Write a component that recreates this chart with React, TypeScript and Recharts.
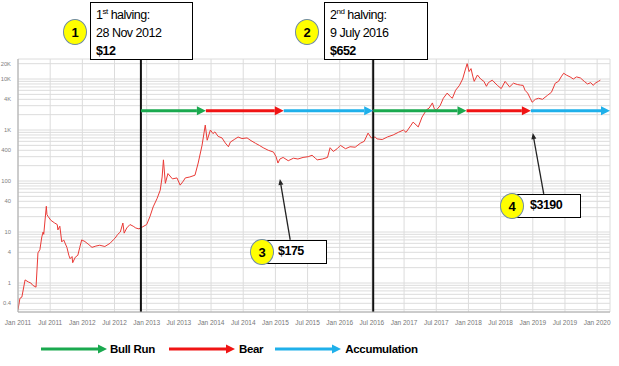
import React from "react";
import { LineChart, Line, XAxis, YAxis, CartesianGrid, ReferenceLine } from "recharts";

// decimal year / BTC price (USD)
const dates = [
  2011.0, 2011.03, 2011.06, 2011.11, 2011.16, 2011.2, 2011.23, 2011.28, 2011.31, 2011.34, 2011.37, 2011.39,
  2011.4, 2011.44, 2011.45, 2011.47, 2011.51, 2011.57, 2011.61, 2011.62, 2011.65, 2011.68, 2011.71, 2011.76,
  2011.79, 2011.81, 2011.84, 2011.85, 2011.89, 2011.93, 2011.96, 2011.99, 2012.04, 2012.09, 2012.15, 2012.21,
  2012.27, 2012.35, 2012.43, 2012.48, 2012.51, 2012.55, 2012.59, 2012.63, 2012.65, 2012.69, 2012.74, 2012.79,
  2012.83, 2012.88, 2012.93, 2013.0, 2013.05, 2013.1, 2013.16, 2013.21, 2013.24, 2013.26, 2013.29, 2013.33,
  2013.4, 2013.47, 2013.52, 2013.57, 2013.6, 2013.67, 2013.75, 2013.8, 2013.86, 2013.91, 2013.94, 2013.99,
  2014.03, 2014.06, 2014.11, 2014.17, 2014.22, 2014.27, 2014.3, 2014.36, 2014.42, 2014.48, 2014.56, 2014.62,
  2014.69, 2014.75, 2014.81, 2014.89, 2014.97, 2015.01, 2015.04, 2015.07, 2015.12, 2015.2, 2015.28, 2015.35,
  2015.43, 2015.51, 2015.57, 2015.62, 2015.65, 2015.73, 2015.81, 2015.85, 2015.9, 2015.96, 2016.01, 2016.09,
  2016.16, 2016.24, 2016.32, 2016.38, 2016.44, 2016.49, 2016.55, 2016.58, 2016.66, 2016.74, 2016.83, 2016.91,
  2016.99, 2017.03, 2017.1, 2017.14, 2017.22, 2017.28, 2017.35, 2017.39, 2017.44, 2017.47, 2017.5, 2017.56,
  2017.61, 2017.67, 2017.72, 2017.75, 2017.8, 2017.86, 2017.91, 2017.95, 2017.98, 2018.01, 2018.04, 2018.07,
  2018.09, 2018.14, 2018.19, 2018.24, 2018.28, 2018.31, 2018.37, 2018.45, 2018.51, 2018.57, 2018.64, 2018.7,
  2018.76, 2018.81, 2018.85, 2018.88, 2018.92, 2018.96, 2018.99, 2019.04, 2019.09, 2019.15, 2019.23, 2019.29,
  2019.35, 2019.4, 2019.44, 2019.48, 2019.52, 2019.58, 2019.63, 2019.68, 2019.74, 2019.8, 2019.85, 2019.9,
  2019.94, 2019.97, 2020.02, 2020.05,
];
const prices = [
  0.3, 0.5, 0.53, 1.15, 1.05, 1.0, 0.9, 0.83, 3.9, 4.5, 8, 10,
  9, 32, 22, 20, 17, 15, 14, 11, 13, 6.4, 7, 5,
  3.5, 3, 3.3, 2.5, 3.2, 3.5, 5, 7, 6.5, 5.8, 5, 5.3,
  5.5, 5.2, 6, 7, 7.6, 9, 10, 15, 9.5, 12, 14, 13,
  12, 11.5, 12.5, 14, 20, 31, 45, 66, 120, 260, 90, 140,
  110, 115, 83, 100, 115, 120, 130, 225, 500, 1250, 630, 1000,
  850, 920, 750, 700, 560, 470, 580, 650, 730, 680, 700, 620,
  550, 500, 450, 400, 370, 300, 225, 270, 290, 250, 280, 270,
  290, 300, 320, 280, 260, 270, 290, 450, 380, 430, 500, 430,
  470, 460, 550, 600, 870, 700, 730, 670, 650, 730, 800, 900,
  1000, 900, 1200, 1430, 1150, 1800, 2500, 2700, 3400, 2600, 2450, 3000,
  4200, 5300, 4500, 4200, 6000, 7500, 10000, 15000, 20000, 14000, 16000, 11000,
  9000, 12000, 10000, 9000, 7200, 8500, 9500, 7500, 6500, 9000, 7000, 8300,
  7800, 7600, 7500, 6000, 5300, 4200, 3500, 4000, 4200, 4000, 4800, 5500,
  8300, 9000, 11000, 13000, 12000, 11000, 10000, 11000, 10500, 9000, 8000, 8500,
  7500, 8300, 9000, 9500,
];

const xTicks = [2011, 2011.5, 2012, 2012.5, 2013, 2013.5, 2014, 2014.5, 2015, 2015.5, 2016, 2016.5, 2017, 2017.5, 2018, 2018.5, 2019, 2019.5, 2020];
const yLabels = [0.4, 1, 4, 10, 40, 100, 400, 1000, 4000, 10000, 20000];
const yGrid = [
  0.3, 0.4, 0.5, 0.6, 0.7, 0.8, 0.9, 1, 2, 3, 4, 5, 6, 7, 8, 9, 10, 20, 30, 40, 50, 60, 70, 80, 90,
  100, 200, 300, 400, 500, 600, 700, 800, 900, 1000, 2000, 3000, 4000, 5000, 6000, 7000, 8000, 9000, 10000, 20000,
];

const halvings = [2012.91, 2016.52];
// phase arrows: [start, end, phase]
const phaseLevel = 2400;
const phases: [number, number, string][] = [
  [2012.91, 2013.92, "bull"],
  [2013.92, 2015.13, "bear"],
  [2015.13, 2016.52, "acc"],
  [2016.52, 2017.97, "bull"],
  [2017.97, 2018.97, "bear"],
  [2018.97, 2020.2, "acc"],
];
// callout pointers: tail (year, price) -> tip (year, price)
const pointers = [
  [2015.23, 7, 2015.07, 110],
  [2019.17, 56, 2019.0, 870],
];

const colors: Record<string, string> = { bull: "#1aa94f", bear: "#f01414", acc: "#1fb0ea" };

const data = dates.map((t, i) => ({ t, price: prices[i] }));

const fmtX = (v: number) => (Number.isInteger(v) ? `Jan ${v}` : `Jul ${Math.floor(v)}`);
const fmtY = (v: number) => {
  if (!yLabels.includes(v)) return "";
  return v >= 1000 ? `${v / 1000}K` : `${v}`;
};

function arrowShape(color: string, width: number, head: number, half: number) {
  return (p: any) => {
    const { x1, y1, x2, y2 } = p;
    const dx = x2 - x1;
    const dy = y2 - y1;
    const L = Math.hypot(dx, dy) || 1;
    const ux = dx / L;
    const uy = dy / L;
    const bx = x2 - ux * head;
    const by = y2 - uy * head;
    return (
      <g>
        <line x1={x1} y1={y1} x2={bx} y2={by} stroke={color} strokeWidth={width} />
        <polygon points={`${x2},${y2} ${bx - uy * half},${by + ux * half} ${bx + uy * half},${by - ux * half}`} fill={color} />
      </g>
    );
  };
}

function Badge({ n, x, y }: { n: number; x: number; y: number }) {
  return (
    <div
      style={{
        position: "absolute", left: x - 12, top: y - 13, width: 22, height: 24, borderRadius: "50%",
        background: "#ffff00", border: "1.5px solid #6f8ba3", display: "flex", alignItems: "center",
        justifyContent: "center", fontWeight: 700, fontSize: 13,
      }}
    >
      {n}
    </div>
  );
}

const boxStyle: React.CSSProperties = {
  position: "absolute", background: "#fff", border: "1.5px solid #000", boxSizing: "border-box",
  fontSize: 12.5, letterSpacing: -0.5, color: "#000",
};

function LegendArrow({ color }: { color: string }) {
  return (
    <svg width={66} height={10} style={{ display: "block" }}>
      <line x1={0} y1={5} x2={57} y2={5} stroke={color} strokeWidth={3} />
      <polygon points="66,5 57,0.5 57,9.5" fill={color} />
    </svg>
  );
}

export default function App() {
  return (
    <div style={{ position: "relative", width: 619, height: 366, background: "#fff", fontFamily: "'Liberation Sans', Arial, sans-serif" }}>
      <style>{"body{margin:0}"}</style>
      <div style={{ position: "absolute", left: 0, top: 0 }}>
        <LineChart width={619} height={366} data={data} margin={{ top: 59, right: 9, bottom: 34, left: 0 }}>
          <CartesianGrid stroke="#dcdcdc" strokeWidth={1} />
          <XAxis
            dataKey="t" type="number" domain={[2011, 2020.2]} ticks={xTicks} tickFormatter={fmtX}
            tickLine={false} axisLine={{ stroke: "#aaa" }} tick={{ fontSize: 6.5, fill: "#777" }}
            height={20} interval={0} allowDataOverflow
          />
          <YAxis
            type="number" scale="log" domain={[0.27, 24700]} ticks={yGrid} tickFormatter={fmtY}
            tickLine={false} axisLine={{ stroke: "#aaa" }} tick={{ fontSize: 5.8, fill: "#808080" }}
            width={18} interval={0} allowDataOverflow tickMargin={1}
          />
          <Line dataKey="price" type="linear" stroke="#ea3a36" strokeWidth={1} dot={false} isAnimationActive={false} />
          {halvings.map((h) => (
            <ReferenceLine key={h} x={h} stroke="#111" strokeWidth={2} ifOverflow="visible" />
          ))}
          {phases.map(([a, b, k], i) => (
            <ReferenceLine
              key={`p${i}`} segment={[{ x: a, y: phaseLevel }, { x: b, y: phaseLevel }]} ifOverflow="visible"
              shape={arrowShape(colors[k], 3, 9, 4.5)}
            />
          ))}
          {pointers.map(([x1, y1, x2, y2], i) => (
            <ReferenceLine
              key={`c${i}`} segment={[{ x: x1, y: y1 }, { x: x2, y: y2 }]} ifOverflow="visible"
              shape={arrowShape("#222", 1.3, 6, 2.5)}
            />
          ))}
        </LineChart>
      </div>

      <div style={{ ...boxStyle, left: 90, top: 2, width: 103, height: 58, padding: "3px 0 0 5px", lineHeight: "18px" }}>
        <div>1<sup style={{ fontSize: 8, verticalAlign: "top", lineHeight: "12px" }}>st</sup> halving:</div>
        <div>28 Nov 2012</div>
        <div style={{ fontWeight: 700 }}>$12</div>
      </div>
      <Badge n={1} x={75} y={32} />

      <div style={{ ...boxStyle, left: 324, top: 2, width: 104, height: 58, padding: "3px 0 0 5px", lineHeight: "18px" }}>
        <div>2<sup style={{ fontSize: 8, verticalAlign: "top", lineHeight: "12px" }}>nd</sup> halving:</div>
        <div>9 July 2016</div>
        <div style={{ fontWeight: 700 }}>$652</div>
      </div>
      <Badge n={2} x={307} y={32} />

      <div style={{ ...boxStyle, left: 266, top: 240, width: 61, height: 24, padding: "0 0 0 11px", lineHeight: "21px", fontWeight: 700 }}>
        $175
      </div>
      <Badge n={3} x={262} y={252} />

      <div style={{ ...boxStyle, left: 512, top: 194, width: 69, height: 24, padding: "0 0 0 17px", lineHeight: "21px", fontWeight: 700 }}>
        $3190
      </div>
      <Badge n={4} x={512} y={206} />

      <div style={{ position: "absolute", left: 41, top: 343, display: "flex", alignItems: "center", fontSize: 11.5, fontWeight: 700, letterSpacing: -0.3 }}>
        <LegendArrow color={colors.bull} />
        <span style={{ marginLeft: 3, marginRight: 14 }}>Bull Run</span>
        <LegendArrow color={colors.bear} />
        <span style={{ marginLeft: 4, marginRight: 12 }}>Bear</span>
        <LegendArrow color={colors.acc} />
        <span style={{ marginLeft: 4 }}>Accumulation</span>
      </div>
    </div>
  );
}
